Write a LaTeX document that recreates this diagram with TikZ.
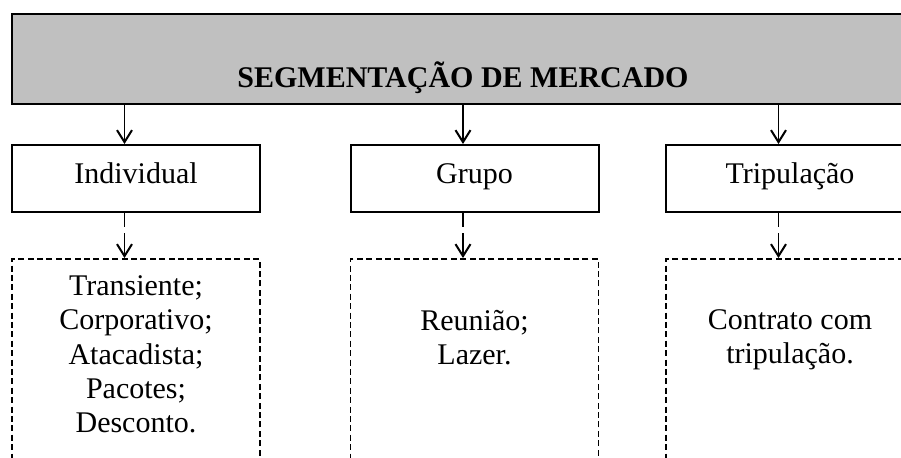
\documentclass[tikz,border=0pt]{standalone}
\usepackage{fontspec}
\setmainfont{Liberation Serif}
\usepackage{xcolor}
\usetikzlibrary{shapes,arrows.meta}
\definecolor{titlegray}{RGB}{192,192,192}
\tikzstyle{title} = [rectangle, draw, fill=titlegray, line width=1pt, anchor=north, minimum width=451pt, inner ysep=0pt, text height=36.5pt, text depth=8.5pt, font=\fontsize{15}{17.1}\selectfont\bfseries]
\tikzstyle{block} = [rectangle, draw, line width=1pt, minimum width=124pt, inner xsep=0pt, inner ysep=9.5pt, text height=9.5pt, text depth=5pt]
\tikzstyle{list} = [rectangle, draw, line width=0.9pt, dash pattern=on 3pt off 1.7pt, minimum width=124pt, minimum height=120pt, anchor=north]
\tikzstyle{items} = [align=center, inner sep=0pt, anchor=north]
\tikzstyle{line} = [draw, line width=0.9pt, -{Straight Barb[length=6pt,width=7.5pt,line width=1pt]}]
\tikzstyle{dline} = [line, dash pattern=on 7pt off 3pt on 20pt off 3pt]

\begin{document}
\begin{tikzpicture}[x=0.5pt, y=-0.5pt, font=\fontsize{15}{17.1}\selectfont]
\useasboundingbox (0,0) rectangle (901,457);
\clip (0,0) rectangle (901,457);

\node [title] (seg) at (463,13) {SEGMENTAÇÃO DE MERCADO};

\node [block] (ind) at (136,178.5) {Individual};
\node [block] (grp) at (474.5,178.5) {Grupo};
\node [block] (tri) at (790,178.5) {Tripulação};
\path [line] ([xshift=-5.75pt]ind.north |- seg.south) -- ([xshift=-5.75pt]ind.north);
\path [line] ([xshift=-5.75pt]grp.north |- seg.south) -- ([xshift=-5.75pt]grp.north);
\path [line] ([xshift=-5.75pt]tri.north |- seg.south) -- ([xshift=-5.75pt]tri.north);

\node [list] (indl) at (136,258) {};
\node [list] (grpl) at (474.5,258) {};
\node [list] (tril) at (790,258) {};
\path [dline] ([xshift=-5.75pt]ind.south) -- ([xshift=-5.75pt]indl.north);
\path [dline] ([xshift=-5.75pt]grp.south) -- ([xshift=-5.75pt]grpl.north);
\path [dline] ([xshift=-5.75pt]tri.south) -- ([xshift=-5.75pt]tril.north);

\node [items] (indt) at (136,275.5) {Transiente;\\Corporativo;\\Atacadista;\\Pacotes;\\Desconto.};
\node [items] (grpt) at (474.5,309.5) {Reunião;\\Lazer.};
\node [items] (trit) at (790,309.5) {Contrato com\\tripulação.};
\end{tikzpicture}
\end{document}
